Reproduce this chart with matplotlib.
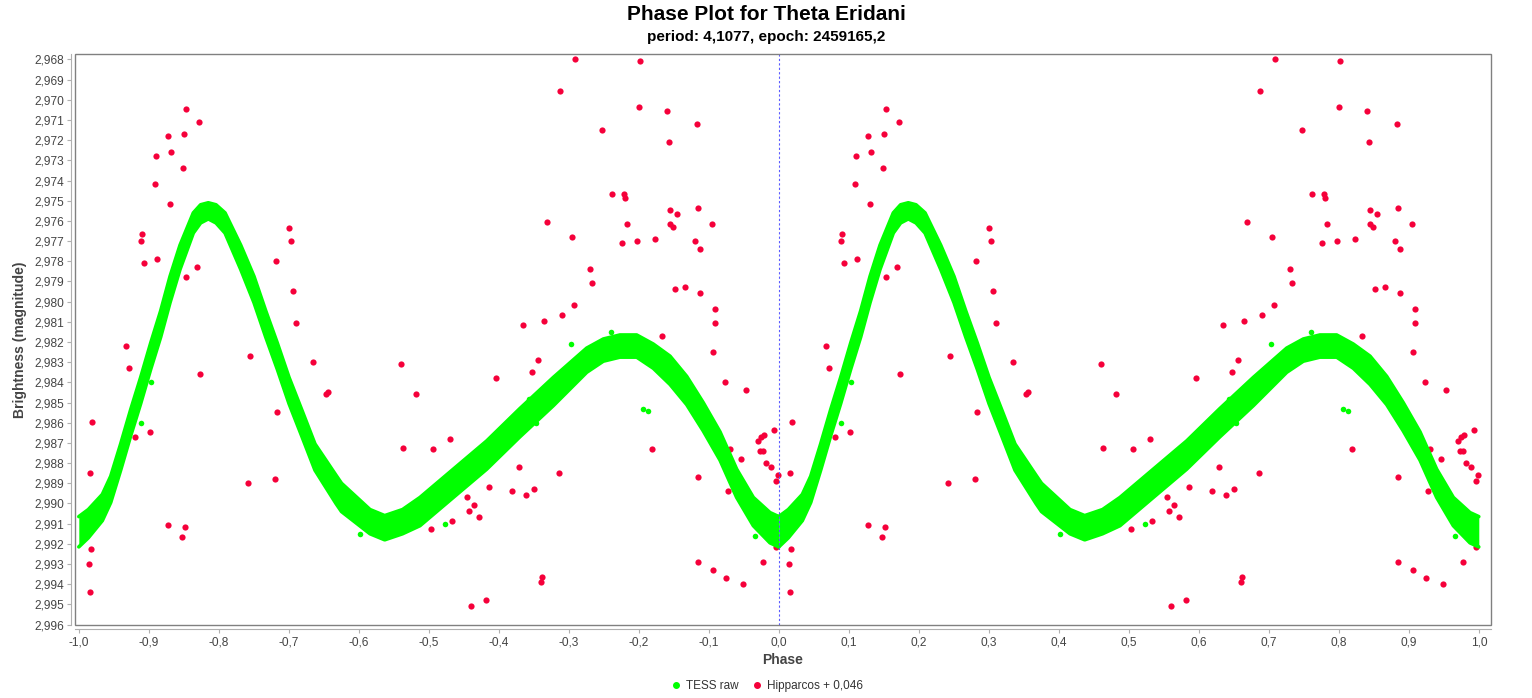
import matplotlib
matplotlib.use("Agg")
import numpy as np
import matplotlib.pyplot as plt
from matplotlib.lines import Line2D
from matplotlib.patches import Rectangle

# ─── data (phase 0..1, repeated at phase-1) ───────────────────────────────────
tess_phase = [0.0, 0.0136, 0.0336, 0.0456, 0.0598, 0.0741, 0.0884, 0.1027, 0.117, 0.1303,
              0.1446, 0.1636, 0.174, 0.185, 0.196, 0.2089, 0.2313, 0.2503, 0.267, 0.2836,
              0.3003, 0.3184, 0.3374, 0.3674, 0.3753, 0.416, 0.437, 0.4625, 0.4874, 0.535,
              0.5827, 0.63, 0.678, 0.7256, 0.7493, 0.773, 0.797, 0.8207, 0.8446, 0.8684,
              0.892, 0.916, 0.9398, 0.9636, 0.9874, 1.0]
tess_mag = [2.9914, 2.9910, 2.9902, 2.9893, 2.9877, 2.9860, 2.9844, 2.9827, 2.9811, 2.9794,
            2.9778, 2.9761, 2.97565, 2.9755, 2.97565, 2.9761, 2.9778, 2.9794, 2.9811, 2.9827,
            2.9844, 2.9860, 2.9877, 2.9893, 2.9897, 2.9909, 2.9912, 2.9909, 2.9904, 2.9890,
            2.9876, 2.9860, 2.98445, 2.9829, 2.9824, 2.9822, 2.9822, 2.9827, 2.9834, 2.9844,
            2.9857, 2.98715, 2.9890, 2.9904, 2.9912, 2.9914]
# half width of the TESS scatter band (mag)
tess_spread = [0.00075, 0.0007, 0.00065, 0.00065, 0.00065, 0.00065, 0.00065, 0.00065, 0.00065, 0.00065,
               0.0006, 0.0005, 0.00045, 0.0004, 0.00045, 0.0005, 0.0006, 0.00065, 0.00065, 0.00065,
               0.00065, 0.00065, 0.00065, 0.0007, 0.0007, 0.0006, 0.0006, 0.0006, 0.0007, 0.0007,
               0.0007, 0.0007, 0.0007, 0.0006, 0.00055, 0.00055, 0.00055, 0.0006, 0.0007, 0.0007,
               0.0007, 0.0007, 0.0007, 0.0007, 0.00075, 0.00075]
tess_out_phase = [0.703, 0.7607, 0.5231, 0.9664, 0.6436, 0.6536, 0.8056, 0.8136, 0.0889, 0.1027, 0.4017]
tess_out_mag = [2.9821, 2.9815, 2.9910, 2.9916, 2.9848, 2.9860, 2.9853, 2.9854, 2.9860, 2.9840, 2.9915]

hip_phase = [0.1527, 0.1717, 0.1279, 0.1499, 0.1107, 0.1317, 0.1493, 0.1089, 0.1307, 0.0903,
             0.0889, 0.0927, 0.1121, 0.1693, 0.1536, 0.0674, 0.2999, 0.3031, 0.2817, 0.3064,
             0.3099, 0.0713, 0.1731, 0.0193, 0.1021, 0.0807, 0.2446, 0.2831, 0.2413, 0.2799,
             0.3346, 0.3527, 0.3564, 0.4599, 0.4813, 0.4631, 0.1279, 0.1513, 0.1479, 0.0179,
             0.0146, 0.0160, 0.0156, 0.7084, 0.8017, 0.6870, 0.8007, 0.8403, 0.8831, 0.7479,
             0.8436, 0.7617, 0.7793, 0.7803, 0.8450, 0.8546, 0.8846, 0.6689, 0.7836, 0.8441,
             0.8484, 0.9050, 0.7050, 0.7756, 0.7979, 0.8227, 0.8807, 0.8870, 0.7299, 0.7331,
             0.8513, 0.8664, 0.8879, 0.9084, 0.9093, 0.7079, 0.6903, 0.6650, 0.6350, 0.8331,
             0.9056, 0.9231, 0.9527, 0.6564, 0.6474, 0.5964, 0.5303, 0.5064, 0.6289, 0.6864,
             0.5860, 0.6184, 0.6384, 0.6507, 0.5541, 0.5641, 0.5574, 0.5713, 0.5336, 0.5031,
             0.8193, 0.8846, 0.9303, 0.9460, 0.9279, 0.9931, 0.9707, 0.9746, 0.9784, 0.9727,
             0.9770, 0.9817, 0.9884, 0.9989, 0.9964, 0.8846, 0.9060, 0.9241, 0.9493, 0.9770,
             0.6617, 0.6599, 0.5607, 0.5821, 0.9960]
hip_mag = [2.97047, 2.97108, 2.97178, 2.97168, 2.97278, 2.97257, 2.97338, 2.97417, 2.97518, 2.97666,
           2.97698, 2.97807, 2.97789, 2.97828, 2.97878, 2.98218, 2.97636, 2.97698, 2.97797, 2.97947,
           2.98107, 2.98327, 2.98358, 2.98598, 2.98647, 2.98669, 2.98268, 2.98548, 2.98898, 2.98879,
           2.98297, 2.98457, 2.98449, 2.98307, 2.98457, 2.98727, 2.99108, 2.99118, 2.99168, 2.99227,
           2.99298, 2.99439, 2.98849, 2.96798, 2.96807, 2.96958, 2.97037, 2.97057, 2.97118, 2.97148,
           2.97207, 2.97468, 2.97468, 2.97488, 2.97547, 2.97567, 2.97537, 2.97607, 2.97617, 2.97617,
           2.97628, 2.97617, 2.97678, 2.97708, 2.97698, 2.97688, 2.97698, 2.97737, 2.97838, 2.97907,
           2.97937, 2.97927, 2.97957, 2.98038, 2.98107, 2.98018, 2.98068, 2.98097, 2.98117, 2.98169,
           2.98249, 2.98398, 2.98439, 2.98289, 2.98348, 2.98378, 2.98679, 2.98729, 2.98818, 2.98849,
           2.98918, 2.98938, 2.98958, 2.98928, 2.98968, 2.99007, 2.99037, 2.99067, 2.99088, 2.99128,
           2.98729, 2.98867, 2.98729, 2.98778, 2.98938, 2.98637, 2.98689, 2.98669, 2.98659, 2.98738,
           2.98738, 2.98798, 2.98818, 2.98857, 2.98888, 2.99288, 2.99328, 2.99368, 2.99399, 2.99288,
           2.99363, 2.99388, 2.99508, 2.99478, 2.99214]

x_ticks = [round(-1.0 + 0.1 * i, 1) for i in range(21)]
y_ticks = [round(2.968 + 0.001 * i, 3) for i in range(29)]

TITLE = "Phase Plot for Theta Eridani"
SUBTITLE = "period: 4,1077, epoch: 2459165,2"
GREEN = "#00ff00"
RED = "#f5003a"

plt.rcParams["font.family"] = ["Liberation Sans", "DejaVu Sans"]

# ─── figure ───────────────────────────────────────────────────────────────────
W, H = 1532, 698
fig = plt.figure(figsize=(W / 100, H / 100), dpi=100)
ax = fig.add_axes([75 / W, 1 - 625 / H, (1490.7 - 75) / W, (625 - 54) / H])

tp = np.array(tess_phase)
tm = np.array(tess_mag)
ts = np.array(tess_spread)
hp = np.array(hip_phase)
hm = np.array(hip_mag)

# Hipparcos points (drawn below TESS)
for shift in (-1.0, 0.0):
    ax.scatter(hp + shift, hm, s=20, color=RED, linewidths=0, zorder=2)

# TESS band
for shift in (-1.0, 0.0):
    ax.fill_between(tp + shift, tm - ts, tm + ts, color=GREEN, linewidth=0, zorder=3)
    ax.plot(tp + shift, tm - ts, color=GREEN, lw=2.6, zorder=3,
            solid_capstyle="round", solid_joinstyle="round")
    ax.plot(tp + shift, tm + ts, color=GREEN, lw=2.6, zorder=3,
            solid_capstyle="round", solid_joinstyle="round")
    ax.scatter(np.array(tess_out_phase) + shift, tess_out_mag, s=16, color=GREEN,
               linewidths=0, zorder=3)

ax.axvline(0.0, color="#5a5aff", lw=0.8, dashes=(2, 2), zorder=4)

ax.set_xlim(-1.00543, 1.017)
ax.set_ylim(2.99602, 2.96773)

ax.set_xticks(x_ticks)
ax.set_xticklabels([f"{v:.1f}".replace(".", ",") for v in x_ticks])
ax.set_yticks(y_ticks)
ax.set_yticklabels([f"{v:.3f}".replace(".", ",") for v in y_ticks])
ax.tick_params(axis="both", length=3, width=0.8, color="#b0b0b0",
               labelcolor="#444444", labelsize=8.6, pad=2)

for side in ("top", "right"):
    ax.spines[side].set_visible(False)
for side in ("left", "bottom"):
    ax.spines[side].set_position(("outward", 3))
    ax.spines[side].set_color("#b0b0b0")
    ax.spines[side].set_linewidth(0.8)
ax.add_patch(Rectangle((0, 0), 1, 1, transform=ax.transAxes, fill=False,
                       edgecolor="#808080", lw=1.0, zorder=5, clip_on=False))

# texts
fig.text(0.5, 1 - 14 / H, TITLE, ha="center", va="center", fontsize=15,
         fontweight="bold", color="black")
fig.text(0.5, 1 - 37 / H, SUBTITLE, ha="center", va="center", fontsize=11,
         fontweight="bold", color="black")
fig.text(783 / W, 1 - 660 / H, "Phase", ha="center", va="center", fontsize=10,
         fontweight="bold", color="#444444")
fig.text(20 / W, 1 - 340 / H, "Brightness (magnitude)", ha="center", va="center",
         rotation=90, fontsize=10, fontweight="bold", color="#444444")

handles = [
    Line2D([], [], ls="none", marker="o", ms=4, color=GREEN, label="TESS raw"),
    Line2D([], [], ls="none", marker="o", ms=4, color=RED, label="Hipparcos + 0,046"),
]
fig.legend(handles=handles, loc="center", bbox_to_anchor=(0.5, 1 - 686 / H), ncol=2,
           frameon=False, fontsize=8.5, handletextpad=0.2, columnspacing=1.0,
           handlelength=1.2, labelcolor="#333333")

fig.savefig("out.png", dpi=100, facecolor="white")
